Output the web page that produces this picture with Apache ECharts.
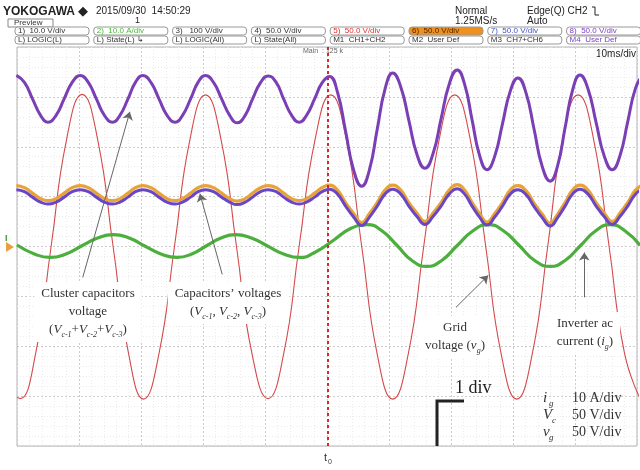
<!DOCTYPE html>
<html><head><meta charset="utf-8">
<script src="https://cdn.jsdelivr.net/npm/echarts@6/dist/echarts.min.js"></script>
<style>html,body{margin:0;padding:0;background:#fff}#c{width:640px;height:470px}</style>
</head><body><div id="c"></div><script>
// time in ms (10 ms/div), vertical values in divisions (0 = screen centre)
const gridVoltage = [[0,-3.02],[0.5,-3.05],[3.0,-2.15],[5.5,0],[8.0,2.15],[10.5,3.05],[13.0,2.15],[15.5,0],[18.0,-2.15],
 [20.4,-3.06],[22.9,-2.15],[25.4,0],[27.9,2.15],[30.4,3.04],[32.9,2.15],[35.4,0],[37.9,-2.15],
 [40.5,-3.05],[43.0,-2.16],[45.5,0],[48.1,2.16],[50.6,3.04],[53.1,2.15],[55.6,0],[58.1,-2.16],
 [60.6,-3.06],[63.1,-2.16],[65.6,0],[68.1,2.15],[70.6,3.04],[73.1,2.15],[75.6,0],[78.1,-2.16],
 [80.6,-3.06],[83.1,-2.16],[85.6,0],[88.0,2.15],[90.5,3.04],[93.0,2.15],[95.5,0],[98.0,-2.15],[100.5,-3.05]];
const clusterVoltage = [[-0.1,3.43],[1.2,3.29],[2.5,2.96],[3.8,2.63],[5.0,2.49],[6.3,2.63],[7.6,2.96],[8.9,3.29],
 [10.2,3.43],[11.5,3.29],[12.8,2.96],[14.1,2.63],[15.4,2.49],[16.6,2.63],[17.9,2.96],[19.1,3.29],
 [20.3,3.43],[21.6,3.29],[22.9,2.96],[24.2,2.63],[25.5,2.49],[26.7,2.63],[28.0,2.96],[29.2,3.29],
 [30.4,3.43],[31.7,3.29],[33.0,2.96],[34.3,2.63],[35.5,2.48],[36.8,2.63],[38.0,2.96],[39.3,3.29],
 [40.5,3.42],[41.8,3.29],[43.0,2.96],[44.3,2.63],[45.5,2.49],[46.7,2.63],[48.0,2.96],[49.2,3.28],
 [50.4,3.41],[51.7,3.09],[53.0,2.31],[54.3,1.53],[55.6,1.21],[56.85,1.54],[58.1,2.35],[59.35,3.15],
 [60.6,3.48],[61.9,3.2],[63.2,2.53],[64.5,1.85],[65.8,1.57],[67.1,1.86],[68.4,2.56],[69.7,3.25],
 [71.0,3.54],[72.2,3.25],[73.4,2.54],[74.6,1.83],[75.8,1.54],[77.05,1.81],[78.3,2.46],[79.55,3.11],
 [80.8,3.38],[82.1,3.08],[83.4,2.35],[84.7,1.61],[86.0,1.31],[87.2,1.62],[88.4,2.38],[89.6,3.13],
 [90.8,3.44],[92.1,3.16],[93.4,2.49],[94.7,1.82],[96.0,1.54],[97.25,1.82],[98.5,2.5],[99.75,3.17],[101,3.45]];
const capVoltage1 = [[-0.1,1.22],[1.2,1.18],[2.5,1.07],[3.8,0.96],[5.0,0.92],[6.3,0.96],[7.6,1.07],[8.9,1.18],
 [10.2,1.22],[11.5,1.18],[12.8,1.07],[14.1,0.96],[15.4,0.92],[16.6,0.96],[17.9,1.07],[19.1,1.18],
 [20.3,1.22],[21.6,1.18],[22.9,1.07],[24.2,0.96],[25.5,0.92],[26.7,0.96],[28.0,1.07],[29.2,1.18],
 [30.4,1.22],[31.7,1.18],[33.0,1.07],[34.3,0.96],[35.5,0.91],[36.8,0.96],[38.0,1.07],[39.3,1.18],
 [40.5,1.22],[41.8,1.18],[43.0,1.07],[44.3,0.96],[45.5,0.92],[46.7,0.96],[48.0,1.07],[49.2,1.18],
 [50.4,1.23],[51.7,1.13],[53.0,0.88],[54.3,0.66],[55.6,0.48],[56.85,0.66],[58.1,0.88],[59.35,1.13],
 [60.6,1.23],[61.9,1.13],[63.2,0.88],[64.5,0.67],[65.8,0.5],[67.1,0.67],[68.4,0.88],[69.7,1.13],
 [71.0,1.24],[72.2,1.13],[73.4,0.88],[74.6,0.66],[75.8,0.49],[77.05,0.66],[78.3,0.88],[79.55,1.13],
 [80.8,1.22],[82.1,1.12],[83.4,0.87],[84.7,0.65],[86.0,0.47],[87.2,0.65],[88.4,0.88],[89.6,1.13],
 [90.8,1.23],[92.1,1.13],[93.4,0.88],[94.7,0.67],[96.0,0.5],[97.25,0.67],[98.5,0.88],[99.75,1.13],[101,1.24]];
const capVoltage2 = [[-0.1,1.14],[1.2,1.1],[2.5,0.99],[3.8,0.89],[5.0,0.85],[6.3,0.89],[7.6,0.99],[8.9,1.1],
 [10.2,1.14],[11.5,1.1],[12.8,0.99],[14.1,0.89],[15.4,0.85],[16.6,0.89],[17.9,0.99],[19.1,1.1],
 [20.3,1.14],[21.6,1.1],[22.9,0.99],[24.2,0.89],[25.5,0.85],[26.7,0.89],[28.0,0.99],[29.2,1.1],
 [30.4,1.14],[31.7,1.1],[33.0,0.99],[34.3,0.89],[35.5,0.84],[36.8,0.89],[38.0,0.99],[39.3,1.1],
 [40.5,1.14],[41.8,1.1],[43.0,0.99],[44.3,0.89],[45.5,0.85],[46.7,0.89],[48.0,0.99],[49.2,1.1],
 [50.4,1.15],[51.7,1.05],[53.0,0.81],[54.3,0.59],[55.6,0.42],[56.85,0.59],[58.1,0.81],[59.35,1.05],
 [60.6,1.15],[61.9,1.05],[63.2,0.81],[64.5,0.6],[65.8,0.44],[67.1,0.6],[68.4,0.81],[69.7,1.05],
 [71.0,1.16],[72.2,1.05],[73.4,0.81],[74.6,0.59],[75.8,0.43],[77.05,0.59],[78.3,0.81],[79.55,1.05],
 [80.8,1.14],[82.1,1.04],[83.4,0.8],[84.7,0.58],[86.0,0.41],[87.2,0.58],[88.4,0.81],[89.6,1.05],
 [90.8,1.15],[92.1,1.05],[93.4,0.81],[94.7,0.6],[96.0,0.44],[97.25,0.6],[98.5,0.81],[99.75,1.05],[101,1.16]];
const inverterCurrent = [[0,0.03],[2.8,-0.15],[5.3,-0.22],[7.9,-0.15],[10.4,0.01],[13.0,0.17],[15.5,0.24],
 [18.1,0.17],[20.6,0.01],[23.2,-0.15],[25.8,-0.22],[28.2,-0.15],[30.5,0.01],[32.9,0.17],[35.2,0.24],
 [37.8,0.17],[40.4,0.01],[43.0,-0.15],[45.6,-0.22],[48.3,-0.1],[51.0,0.12],[53.8,0.36],[56.5,0.44],
 [58.9,0.31],[61.3,0.02],[63.7,-0.28],[66.1,-0.4],[68.5,-0.28],[71.0,0.02],[73.5,0.31],[76.0,0.44],
 [78.5,0.31],[81.0,0.02],[83.5,-0.28],[86.0,-0.4],[88.4,-0.28],[90.9,0.02],[93.3,0.31],[95.7,0.44],
 [98.1,0.31],[100.5,0.02]];
const triggerTime = 50.2;
// annotation arrows: [tail, head] in (ms, div)
const arrows = [
 [[10.6,-0.62],[18.2,2.7]],
 [[33.1,-0.56],[29.5,1.06]],
 [[70.8,-1.22],[76.0,-0.58]],
 [[91.5,-1.02],[91.5,-0.12]]
];
const row1Labels = ['1)  10.0 V/div','2)  10.0 A/div','3)   100 V/div','4)  50.0 V/div','5)  50.0 V/div','6)  50.0 V/div','7)  50.0 V/div','8)  50.0 V/div'];
const row2Labels = ['L) LOGIC(L)','L) State(L) \u21b3','L) LOGIC(All)','L) State(All)','M1  CH1+CH2','M2  User Def','M3  CH7+CH6','M4  User Def'];
const row1Colors = ['#333','#44bb33','#333','#333','#e03030','#4a2a00','#4050d0','#8040c8'];
const row2Colors = ['#333','#333','#333','#333','#333','#333','#333','#8040c8'];
const scaleNames = [['i','g'],['V','c'],['v','g']];
const scaleValues = ['10 A/div','50 V/div','50 V/div'];

const chart = echarts.init(document.getElementById('c'), null, {renderer:'canvas'});
const serif = '"Liberation Serif","DejaVu Serif",serif';
const sans = '"Liberation Sans","DejaVu Sans",sans-serif';

const graphics = [];
graphics.push({type:'text', left:3, top:6, style:{text:'YOKOGAWA', font:'bold 12px '+sans, fill:'#222'}});
graphics.push({type:'text', left:78, top:5, style:{text:'\u25c6', font:'13px '+sans, fill:'#222'}});
graphics.push({type:'text', left:96, top:6, style:{text:'2015/09/30  14:50:29', font:'10px '+sans, fill:'#222'}});
graphics.push({type:'text', left:135, top:16, style:{text:'1', font:'9px '+sans, fill:'#222'}});
graphics.push({type:'rect', shape:{x:8,y:19,width:45,height:8}, style:{fill:'#fff',stroke:'#888',lineWidth:1}});
graphics.push({type:'text', left:14, top:19, style:{text:'Preview', font:'8px '+sans, fill:'#333'}});
graphics.push({type:'text', left:455, top:6, style:{text:'Normal', font:'10px '+sans, fill:'#222'}});
graphics.push({type:'text', left:455, top:16, style:{text:'1.25MS/s', font:'10px '+sans, fill:'#222'}});
graphics.push({type:'text', left:527, top:6, style:{text:'Edge(Q) CH2', font:'10px '+sans, fill:'#222'}});
graphics.push({type:'polyline', shape:{points:[[592,7],[595,7],[595,15],[599,15]]}, style:{stroke:'#222', lineWidth:1, fill:null}});
graphics.push({type:'text', left:527, top:16, style:{text:'Auto', font:'10px '+sans, fill:'#222'}});
row1Labels.forEach((t,i)=>{
  const x = 15 + i*78.8;
  const filled = i===5;
  graphics.push({type:'rect', shape:{x:x,y:27,width:74,height:8,r:3}, style:{fill:filled?'#f0901e':'#fff', stroke:'#999', lineWidth:1}});
  graphics.push({type:'text', left:x+3, top:27, style:{text:t, font:'8px '+sans, fill:row1Colors[i]}});
});
row2Labels.forEach((t,i)=>{
  const x = 15 + i*78.8;
  graphics.push({type:'rect', shape:{x:x,y:36,width:74,height:8,r:3}, style:{fill:'#fff', stroke:'#999', lineWidth:1}});
  graphics.push({type:'text', left:x+3, top:36, style:{text:t, font:'8px '+sans, fill:row2Colors[i]}});
});
graphics.push({type:'text', left:303, top:48, style:{text:'Main  : 125 k', font:'7px '+sans, fill:'#666'}});
graphics.push({type:'text', right:4, top:49, style:{text:'10ms/div', font:'10px '+sans, fill:'#222'}});
// ground marker
graphics.push({type:'polygon', shape:{points:[[6,242],[14,247],[6,252]]}, style:{fill:'#e8a040'}});
graphics.push({type:'text', left:5, top:234, style:{text:'I', font:'bold 9px '+sans, fill:'#3a9a30'}});

function label(lines, cx, cy){
  graphics.push({type:'text', x:cx, y:cy, z:50, style:{
    rich:lines.rich, text:lines.text, align:'center', verticalAlign:'middle',
    font:'13px '+serif, fill:'#333', backgroundColor:'#fff', padding:[3,7], lineHeight:18
  }});
}
const richBase = {
  n:{fontFamily:serif, fontSize:13, color:'#333', lineHeight:18},
  i:{fontFamily:serif, fontSize:13, fontStyle:'italic', color:'#333', lineHeight:18},
  s:{fontFamily:serif, fontSize:8, fontStyle:'italic', color:'#333', verticalAlign:'bottom', lineHeight:8}
};
label({text:'{n|Cluster capacitors}\n{n|voltage}\n{n|(}{i|V}{s|c-1}{n|+}{i|V}{s|c-2}{n|+}{i|V}{s|c-3}{n|)}', rich:richBase}, 88, 312);
label({text:'{n|Capacitors\u2019 voltages}\n{n|(}{i|V}{s|c-1}{n|, }{i|V}{s|c-2}{n|, }{i|V}{s|c-3}{n|)}', rich:richBase}, 228, 303);
label({text:'{n|Grid}\n{n|voltage (}{i|v}{s|g}{n|)}', rich:richBase}, 455, 337);
label({text:'{n|Inverter ac}\n{n|current (}{i|i}{s|g}{n|)}', rich:richBase}, 585, 333);
graphics.push({type:'text', x:455, y:379, z:50, style:{text:'1 div', font:'18px '+serif, fill:'#222'}});
graphics.push({type:'polyline', z:60, shape:{points:[[437,446],[437,401],[464,401]]}, style:{stroke:'#222', lineWidth:3, fill:null}});
scaleNames.forEach((nm,k)=>{
  const y = 398 + k*17;
  graphics.push({type:'text', x:543, y:y, z:50, style:{text:nm[0], font:'italic 15px '+serif, fill:'#333', verticalAlign:'middle'}});
  graphics.push({type:'text', x:nm[0]==='V'?552:549, y:y+6, z:50, style:{text:nm[1], font:'italic 9px '+serif, fill:'#333', verticalAlign:'middle'}});
  graphics.push({type:'text', x:572, y:y, z:50, style:{text:scaleValues[k], font:'14px '+serif, fill:'#333', verticalAlign:'middle'}});
});
graphics.push({type:'text', x:324, y:452, style:{text:'t', font:'11px '+sans, fill:'#333'}});
graphics.push({type:'text', x:328, y:459, style:{text:'0', font:'7px '+sans, fill:'#333'}});

const axisCommon = {
  axisLine:{show:false}, axisTick:{show:false}, axisLabel:{show:false},
  splitLine:{show:true, lineStyle:{color:'#cccccc', type:[2,2], width:1}},
  minorTick:{show:false, splitNumber:5},
  minorSplitLine:{show:true, lineStyle:{color:'#ebebeb', type:[1,2], width:1}}
};

const option = {
  animation:false,
  backgroundColor:'#fff',
  grid:{left:17, right:3, top:47, bottom:24, show:true, borderColor:'#b4b4b4', borderWidth:1},
  xAxis:Object.assign({type:'value', min:0, max:100, interval:10}, axisCommon),
  yAxis:Object.assign({type:'value', min:-4, max:4, interval:1}, axisCommon),
  series:[
    {type:'line', name:'vg', data:gridVoltage, smooth:0.5, showSymbol:false, z:2,
     lineStyle:{color:'#d44a4a', width:1.1},
     markLine:{silent:true, symbol:'none', label:{show:false}, lineStyle:{color:'#e8202a', type:[3,3], width:2},
       data:[{xAxis:triggerTime}]}},
    {type:'line', name:'ig', data:inverterCurrent, smooth:0.5, showSymbol:false, z:3,
     lineStyle:{color:'#4cae3c', width:3.2},
     markLine:{silent:true, symbol:['none','arrow'], symbolSize:8, label:{show:false},
       lineStyle:{color:'#666', type:'solid', width:1},
       data:arrows.map(a=>[{coord:a[0]},{coord:a[1]}])}},
    {type:'line', name:'Vc1', data:capVoltage1, smooth:0.5, showSymbol:false, z:4,
     lineStyle:{color:'#e8a336', width:3.2}},
    {type:'line', name:'Vc2', data:capVoltage2, smooth:0.5, showSymbol:false, z:5,
     lineStyle:{color:'#6a46c4', width:3}},
    {type:'line', name:'Vsum', data:clusterVoltage, smooth:0.5, showSymbol:false, z:5,
     lineStyle:{color:'#7a3fb4', width:3}}
  ],
  graphic:graphics
};
chart.setOption(option);
</script></body></html>
